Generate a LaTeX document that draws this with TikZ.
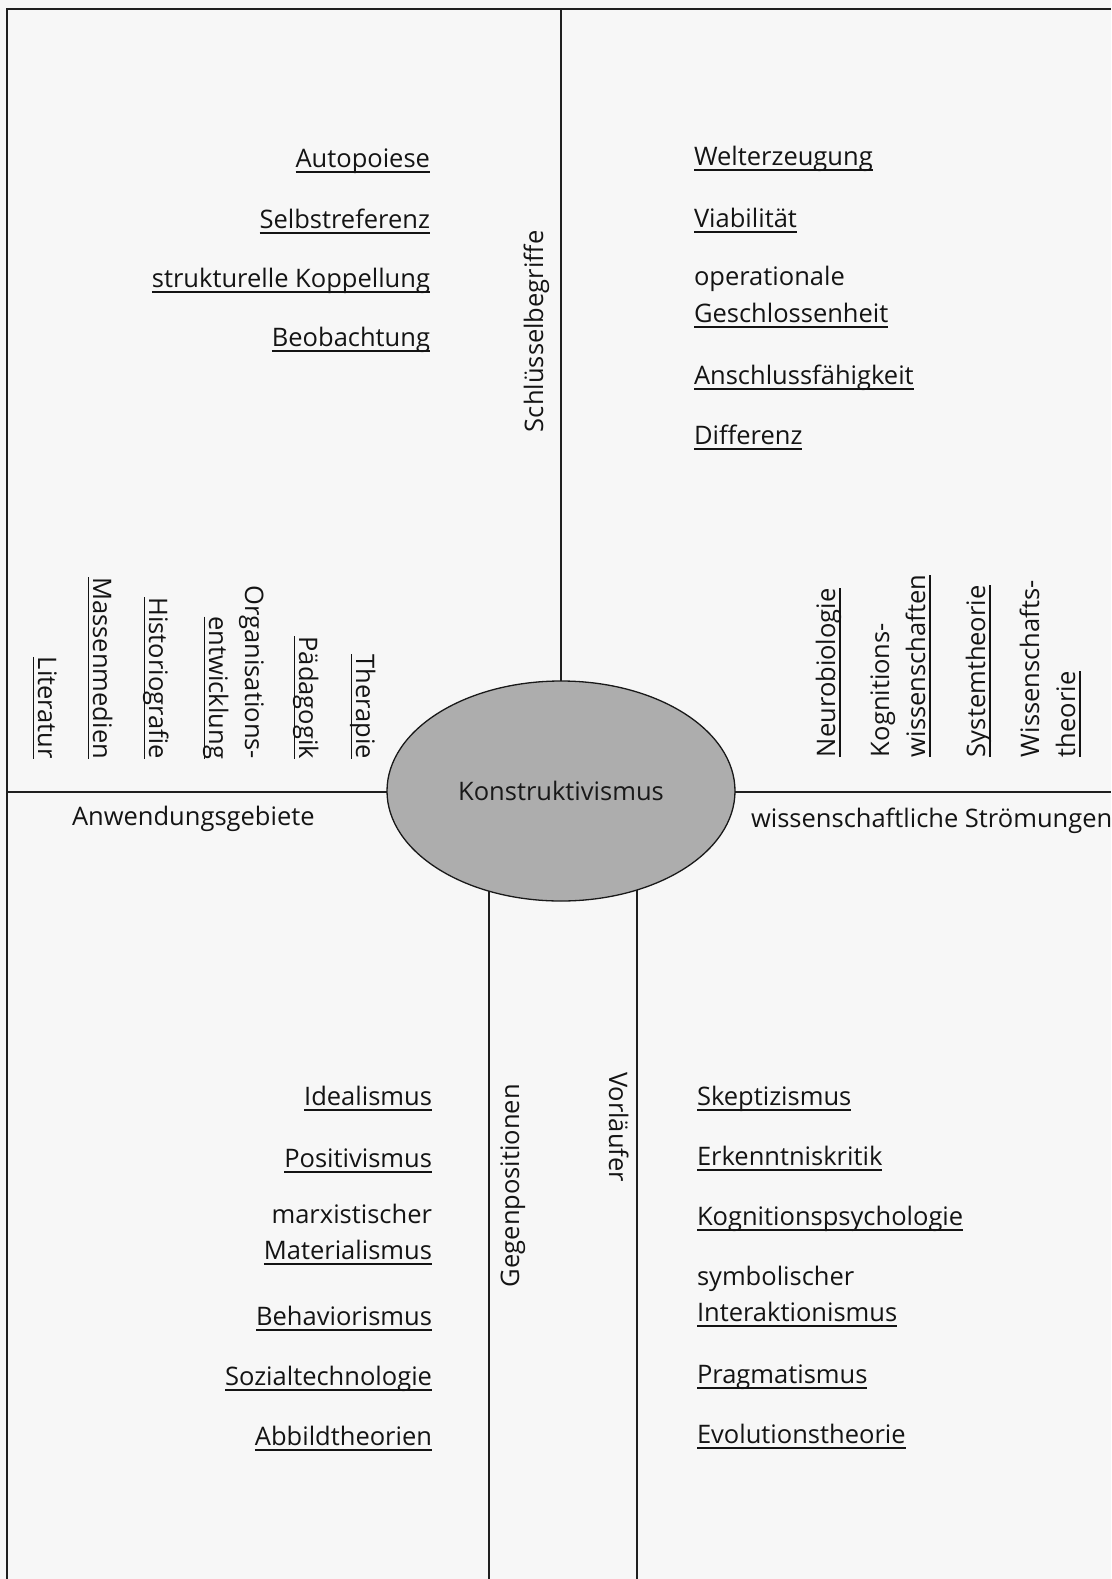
\documentclass[tikz,border=0pt]{standalone}
\usepackage{fontspec}
\setmainfont{Open Sans}
\usepackage{tikz}
\usetikzlibrary{shapes.geometric, backgrounds}
\newsavebox{\strichbox}
\newcommand{\strich}[1]{\sbox{\strichbox}{#1}\rlap{\rule[-5.5pt]{\wd\strichbox}{1.5pt}}\usebox{\strichbox}}
\tikzset{
    begriff/.style={inner sep=0pt, outer sep=0pt, text=black!92, font=\fontsize{25.5}{36}\selectfont},
    quer/.style={begriff, rotate=90},
    runter/.style={begriff, rotate=-90},
    linie/.style={draw=black!88, line width=1.5pt},
    mitte/.style={ellipse, draw=black!90, line width=1.3pt, fill=black!32, minimum width=348pt, minimum height=220pt, inner sep=0pt, text=black!90, font=\fontsize{25.5}{36}\selectfont}
}

\begin{document}
\begin{tikzpicture}[x=1pt, y=-1pt]
    \useasboundingbox (0,0) rectangle (1111,1579);

    % Centre
    \node[mitte] (konstr) at (561,791) {Konstruktivismus};

    % Frame and axes
    \coordinate (eckeOL) at (7,9);
    \coordinate (rechtsO) at (1111,9);
    \coordinate (linksU) at (7,1579);
    \coordinate (obenM) at (561,9);
    \coordinate (linksM) at (7,792);
    \coordinate (rechtsM) at (1111,792);
    \coordinate (untenL) at (489,1579);
    \coordinate (untenR) at (637,1579);
    \begin{pgfonlayer}{background}
        \fill[black!3] (0,0) rectangle (1111,1579);
        \draw[linie] (rechtsO) -- (eckeOL) -- (linksU);
        \draw[linie] (obenM) -- (konstr.center);
        \draw[linie] (linksM) -- (linksM -| konstr.center) -- (rechtsM);
        \draw[linie] (untenL) -- (untenL |- konstr.center);
        \draw[linie] (untenR) -- (untenR |- konstr.center);
    \end{pgfonlayer}

    % Schluesselbegriffe
    \node[quer, anchor=base west] (schluessel) at (543,432) {Schlüsselbegriffe};
    \node[begriff, anchor=base east] (auto) at (430,167) {\strich{Autopoiese}};
    \node[begriff, anchor=base east] (selbst) at (430,228) {\strich{Selbstreferenz}};
    \node[begriff, anchor=base east] (kopp) at (430,287) {\strich{strukturelle Koppellung}};
    \node[begriff, anchor=base east] (beob) at (430,346) {\strich{Beobachtung}};
    \node[begriff, anchor=base west] (welt) at (694,165) {\strich{Welterzeugung}};
    \node[begriff, anchor=base west] (viab) at (694,227) {\strich{Viabilität}};
    \node[begriff, anchor=base west] (oper) at (694,285) {operationale};
    \node[begriff, anchor=base west] (geschl) at (694,322) {\strich{Geschlossenheit}};
    \node[begriff, anchor=base west] (ansch) at (694,384) {\strich{Anschlussfähigkeit}};
    \node[begriff, anchor=base west] (diff) at (694,444) {\strich{Differenz}};

    % Anwendungsgebiete
    \node[begriff, anchor=base west] (anwend) at (72,825) {Anwendungsgebiete};
    \node[runter, anchor=base east] (lit) at (38,759) {\strich{Literatur}};
    \node[runter, anchor=base east] (mass) at (93,759) {\strich{Massenmedien}};
    \node[runter, anchor=base east] (hist) at (149,759) {\strich{Historiografie}};
    \node[runter, anchor=base east] (orga) at (245,759) {Organisations-};
    \node[runter, anchor=base east] (entw) at (209,759) {\strich{entwicklung}};
    \node[runter, anchor=base east] (paed) at (299,759) {\strich{Pädagogik}};
    \node[runter, anchor=base east] (ther) at (356,759) {\strich{Therapie}};

    % wissenschaftliche Stroemungen
    \node[begriff, anchor=base west] (stroem) at (751,827) {wissenschaftliche Strömungen};
    \node[quer, anchor=base west] (neuro) at (835,757) {\strich{Neurobiologie}};
    \node[quer, anchor=base west] (kogn) at (889,757) {Kognitions-};
    \node[quer, anchor=base west] (wissen) at (925,757) {\strich{wissenschaften}};
    \node[quer, anchor=base west] (system) at (985,757) {\strich{Systemtheorie}};
    \node[quer, anchor=base west] (wiss) at (1039,757) {Wissenschafts-};
    \node[quer, anchor=base west] (theo) at (1075,757) {\strich{theorie}};

    % Gegenpositionen
    \node[quer, anchor=base west] (gegen) at (519,1287) {Gegenpositionen};
    \node[begriff, anchor=base east] (ideal) at (432,1105) {\strich{Idealismus}};
    \node[begriff, anchor=base east] (posit) at (432,1167) {\strich{Positivismus}};
    \node[begriff, anchor=base east] (marx) at (432,1223) {marxistischer};
    \node[begriff, anchor=base east] (mater) at (432,1259) {\strich{Materialismus}};
    \node[begriff, anchor=base east] (behav) at (432,1325) {\strich{Behaviorismus}};
    \node[begriff, anchor=base east] (sozial) at (432,1385) {\strich{Sozialtechnologie}};
    \node[begriff, anchor=base east] (abbild) at (432,1445) {\strich{Abbildtheorien}};

    % Vorlaeufer
    \node[runter, anchor=base west] (vorl) at (609,1072) {Vorläufer};
    \node[begriff, anchor=base west] (skep) at (697,1105) {\strich{Skeptizismus}};
    \node[begriff, anchor=base west] (erk) at (697,1165) {\strich{Erkenntniskritik}};
    \node[begriff, anchor=base west] (kogpsy) at (697,1225) {\strich{Kognitionspsychologie}};
    \node[begriff, anchor=base west] (symb) at (697,1285) {symbolischer};
    \node[begriff, anchor=base west] (inter) at (697,1321) {\strich{Interaktionismus}};
    \node[begriff, anchor=base west] (prag) at (697,1383) {\strich{Pragmatismus}};
    \node[begriff, anchor=base west] (evol) at (697,1443) {\strich{Evolutionstheorie}};

\end{tikzpicture}
\end{document}
